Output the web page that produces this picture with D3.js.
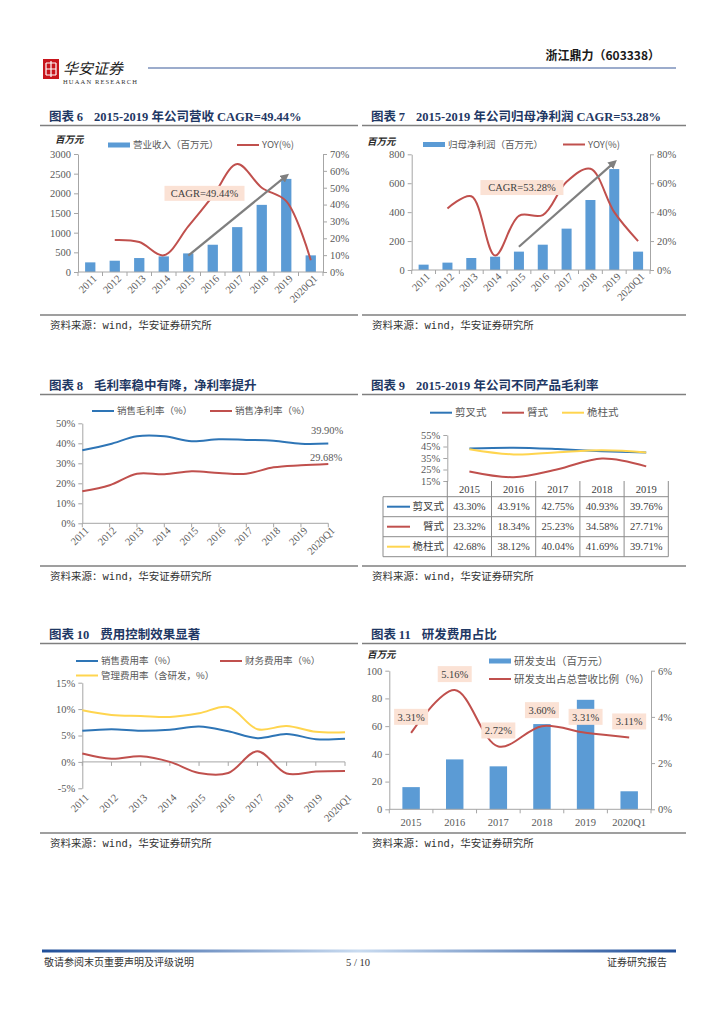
<!DOCTYPE html>
<html>
<head>
<meta charset="utf-8">
<script src="https://cdn.jsdelivr.net/npm/d3@7"></script>
<style>
  body { margin: 0; background: #fff; }
  svg { display: block; }
</style>
</head>
<body>
<svg id="page" width="724" height="1024"></svg>
<script>
// ---- data ----
const years = ["2011", "2012", "2013", "2014", "2015", "2016", "2017", "2018", "2019", "2020Q1"];

const revenue = [245, 287, 355, 397, 473, 693, 1141, 1707, 2367, 423];
const revenueYoy = [null, 19, 17.8, 9.9, 27, 45, 64, 50, 42, 7];
const revenueTicks = [0, 500, 1000, 1500, 2000, 2500, 3000];
const revenuePctTicks = [0, 10, 20, 30, 40, 50, 60, 70];

const netProfit = [37, 51, 83, 92, 127, 175, 286, 484, 698, 127];
const netProfitYoy = [null, 42.6, 51, 10, 37.5, 38, 61, 70, 40, 20];
const profitTicks = [0, 200, 400, 600, 800];
const profitPctTicks = [0, 20, 40, 60, 80];

const grossMargin = [36.5, 39.5, 43.5, 43.5, 41, 42, 41.7, 41.3, 39.8, 39.9];
const netMargin = [16, 19, 24.8, 24.5, 26, 25.2, 24.8, 28, 29, 29.68];
const marginTicks = [0, 10, 20, 30, 40, 50];

const productYears = ["2015", "2016", "2017", "2018", "2019"];
const productNames = ["剪叉式", "臂式", "桅柱式"];
const scissorMargin = [43.30, 43.91, 42.75, 40.93, 39.76];
const boomMargin = [23.32, 18.34, 25.23, 34.58, 27.71];
const mastMargin = [42.68, 38.12, 40.04, 41.69, 39.71];
const productTicks = [15, 25, 35, 45, 55];

const sellingExp = [5.9, 6.2, 5.9, 6.1, 6.7, 5.8, 4.5, 5.3, 4.3, 4.4];
const financeExp = [1.6, 0.6, 1.05, 0.0, -2.1, -2.1, 2.0, -2.2, -1.8, -1.7];
const adminExp = [9.8, 8.9, 8.7, 8.5, 9.2, 10.4, 6.2, 6.8, 5.7, 5.6];
const expTicks = [-5, 0, 5, 10, 15];

const rdYears = ["2015", "2016", "2017", "2018", "2019", "2020Q1"];
const rdSpend = [16, 36, 31, 61.5, 79, 13];
const rdRatio = [3.31, 5.16, 2.72, 3.60, 3.31, 3.11];
const rdTicks = [0, 20, 40, 60, 80, 100];
const rdPctTicks = [0, 2, 4, 6];

// ---- styles ----
const SERIF = "'Liberation Serif','Times New Roman','Noto Sans CJK SC',serif";
const CJK = "'Noto Sans CJK SC','Noto Sans',sans-serif";
const MONO = "'DejaVu Sans Mono','Noto Sans CJK SC',monospace";
const NAVY = "#1f3864";
const TXT = "#595959";
const AXIS = "#a6a6a6";
const BAR = "#5b9bd5";
const RED = "#c0504d";
const BLUE = "#2e75b6";
const YELLOW = "#ffd54f";
const PEACH = "#fbe2d5";

const svg = d3.select("#page");
svg.append("rect").attr("width", 724).attr("height", 1024).attr("fill", "#fff");

const defs = svg.append("defs");
defs.append("marker")
  .attr("id", "arrow")
  .attr("viewBox", "0 0 10 10")
  .attr("refX", 6).attr("refY", 5)
  .attr("markerWidth", 4).attr("markerHeight", 4)
  .attr("orient", "auto")
  .append("path").attr("d", "M0,0L10,5L0,10z").attr("fill", "#7f7f7f");

const grad = defs.append("linearGradient").attr("id", "footGrad");
grad.append("stop").attr("offset", "0%").attr("stop-color", "#1f4e99");
grad.append("stop").attr("offset", "50%").attr("stop-color", "#c9dbf0");
grad.append("stop").attr("offset", "100%").attr("stop-color", "#1f4e99");

// ---- page header / footer ----
const head = svg.append("g");
head.append("rect").attr("x", 43).attr("y", 59).attr("width", 16).attr("height", 20).attr("fill", "#c8161d");
head.append("path")
  .attr("d", "M46,63H56M46,69H56M46,75H56M51,61V77M46,63V75M56,63V75")
  .attr("stroke", "#fff").attr("stroke-width", 1.2).attr("fill", "none");
head.append("text").attr("x", 63).attr("y", 74).text("华安证券")
  .attr("font-family", CJK).attr("font-size", 15).attr("font-style", "italic").attr("fill", "#222");
head.append("text").attr("x", 63).attr("y", 84).text("HUAAN RESEARCH")
  .attr("font-family", SERIF).attr("font-size", 6.5).attr("fill", "#333").attr("textLength", 74);
head.append("line").attr("x1", 148).attr("x2", 676).attr("y1", 68).attr("y2", 68)
  .attr("stroke", "#3b5a9a").attr("stroke-width", 1.2);
head.append("text").attr("x", 660).attr("y", 60).attr("text-anchor", "end")
  .attr("font-family", CJK).attr("font-size", 12).attr("font-weight", "bold").attr("fill", "#1a1a1a")
  .text("浙江鼎力（603338）");

const foot = svg.append("g");
foot.append("rect").attr("x", 42).attr("y", 949.5).attr("width", 634).attr("height", 3).attr("fill", "url(#footGrad)");
foot.append("text").attr("x", 44).attr("y", 966).text("敬请参阅末页重要声明及评级说明")
  .attr("font-family", CJK).attr("font-size", 10).attr("fill", "#333");
foot.append("text").attr("x", 358).attr("y", 966).attr("text-anchor", "middle").text("5 / 10")
  .attr("font-family", SERIF).attr("font-size", 10.5).attr("fill", "#333");
foot.append("text").attr("x", 667).attr("y", 966).attr("text-anchor", "end").text("证券研究报告")
  .attr("font-family", CJK).attr("font-size", 10).attr("fill", "#333");

// ---- helpers ----
function panel(x0, x1, titleY, bottomY, num, title) {
  const g = svg.append("g");
  const t = g.append("text").attr("x", x0 + 9).attr("y", titleY)
    .attr("font-family", SERIF).attr("font-size", 12.5).attr("font-weight", "bold").attr("fill", NAVY);
  t.append("tspan").attr("font-family", CJK).text("图表 ");
  t.append("tspan").text(num);
  t.append("tspan").attr("dx", 11).text(title);
  g.append("line").attr("x1", x0).attr("x2", x1).attr("y1", titleY + 4.5).attr("y2", titleY + 4.5)
    .attr("stroke", "#7f7f7f").attr("stroke-width", 1.6);
  g.append("line").attr("x1", x0).attr("x2", x1).attr("y1", bottomY).attr("y2", bottomY)
    .attr("stroke", "#7f7f7f").attr("stroke-width", 1.6);
  g.append("text").attr("x", x0 + 10).attr("y", bottomY + 13.5)
    .attr("font-family", MONO).attr("font-size", 10.5).attr("fill", "#333")
    .text("资料来源：wind，华安证券研究所");
  return g;
}

function styleAxis(g) {
  g.select(".domain").attr("stroke", AXIS);
  g.selectAll(".tick line").attr("stroke", AXIS);
  g.selectAll(".tick text").attr("fill", TXT).attr("font-family", SERIF).attr("font-size", 10.5);
}

function yAxis(g, scale, x, ticks, fmt, side) {
  const ax = (side === "right" ? d3.axisRight(scale) : d3.axisLeft(scale))
    .tickValues(ticks).tickFormat(fmt).tickSize(4).tickSizeOuter(0).tickPadding(3);
  g.append("g").attr("transform", `translate(${x},0)`).call(ax).call(styleAxis);
}

function bandBase(g, x, y0) {
  const [r0, r1] = x.range();
  g.append("line").attr("x1", r0).attr("x2", r1).attr("y1", y0).attr("y2", y0).attr("stroke", AXIS);
  g.selectAll(null).data(d3.range(x.domain().length + 1)).join("line")
    .attr("x1", (i) => r0 + i * x.step()).attr("x2", (i) => r0 + i * x.step())
    .attr("y1", y0).attr("y2", y0 + 4).attr("stroke", AXIS);
}

function pointBase(g, x, y0) {
  const [r0, r1] = x.range();
  g.append("line").attr("x1", r0).attr("x2", r1).attr("y1", y0).attr("y2", y0).attr("stroke", AXIS);
  g.selectAll(null).data(x.domain()).join("line")
    .attr("x1", (k) => x(k)).attr("x2", (k) => x(k)).attr("y1", y0).attr("y2", y0 + 4).attr("stroke", AXIS);
}

function rotatedLabels(g, pos, labels, y0) {
  g.selectAll(null).data(labels).join("text")
    .attr("transform", (d) => `translate(${pos(d) + 5},${y0}) rotate(-45)`)
    .attr("text-anchor", "end").attr("dy", "0.3em")
    .attr("font-family", SERIF).attr("font-size", 10.5).attr("fill", TXT)
    .text((d) => d);
}

function legendText(g, x, y, text, size) {
  g.append("text").attr("x", x).attr("y", y).attr("dy", "0.35em")
    .attr("font-family", CJK).attr("font-size", size || 9.5).attr("fill", TXT).text(text);
}
function legendBar(g, x, y, text, size) {
  g.append("rect").attr("x", x).attr("y", y - 2.5).attr("width", 22).attr("height", 5).attr("fill", BAR);
  legendText(g, x + 25, y, text, size);
}
function legendLine(g, x, y, color, text, size) {
  g.append("line").attr("x1", x).attr("x2", x + 22).attr("y1", y).attr("y2", y)
    .attr("stroke", color).attr("stroke-width", 2);
  legendText(g, x + 25, y, text, size);
}
function unitLabel(g, x, y) {
  g.append("text").attr("x", x).attr("y", y).attr("dy", "0.35em")
    .attr("font-family", CJK).attr("font-size", 9.5).attr("font-weight", "bold")
    .attr("font-style", "italic").attr("fill", "#262626").text("百万元");
}

function series(keys, vals) {
  return keys.map((k, i) => ({ k, v: vals[i] }));
}

function drawLine(g, data, xPos, y, color) {
  const line = d3.line()
    .defined((d) => d.v != null)
    .x((d) => xPos(d.k)).y((d) => y(d.v))
    .curve(d3.curveCatmullRom.alpha(0.5));
  g.append("path").datum(data).attr("d", line)
    .attr("fill", "none").attr("stroke", color).attr("stroke-width", 2);
}

function cagrNote(g, x, yScale, from, to, box) {
  const cx = (k) => x(k) + x.bandwidth() / 2;
  g.append("line")
    .attr("x1", cx(from.k)).attr("y1", yScale(from.v))
    .attr("x2", cx(to.k)).attr("y2", yScale(to.v))
    .attr("stroke", "#7f7f7f").attr("stroke-width", 2.2).attr("marker-end", "url(#arrow)");
  const bx = (cx(box.k1) + cx(box.k2)) / 2 + box.dx;
  const by = yScale(box.v);
  g.append("rect").attr("x", bx - box.w / 2).attr("y", by - 7.5).attr("width", box.w).attr("height", 15)
    .attr("fill", PEACH);
  g.append("text").attr("x", bx).attr("y", by).attr("dy", "0.35em").attr("text-anchor", "middle")
    .attr("font-family", SERIF).attr("font-size", 10.5).attr("fill", "#404040").text(box.text);
}

// ---- 图表 6 ----
{
  const g = panel(40, 358, 121, 315, "6", "2015-2019 年公司营收 CAGR=49.44%");
  const x = d3.scaleBand().domain(years).range([78, 323]);
  const yL = d3.scaleLinear().domain([0, 3000]).range([272, 154]);
  const yR = d3.scaleLinear().domain([0, 70]).range([272, 154]);
  const bw = x.bandwidth() * 0.42;
  g.selectAll(null).data(series(years, revenue)).join("rect")
    .attr("x", (d) => x(d.k) + (x.bandwidth() - bw) / 2).attr("width", bw)
    .attr("y", (d) => yL(d.v)).attr("height", (d) => yL(0) - yL(d.v)).attr("fill", BAR);
  drawLine(g, series(years, revenueYoy), (k) => x(k) + x.bandwidth() / 2, yR, RED);
  yAxis(g, yL, 78, revenueTicks, d3.format("d"), "left");
  yAxis(g, yR, 323, revenuePctTicks, (d) => d + "%", "right");
  bandBase(g, x, 272);
  rotatedLabels(g, (k) => x(k) + x.bandwidth() / 2, years, 277);
  cagrNote(g, x, yL, { k: "2015", v: 414 }, { k: "2019", v: 2443 },
    { k1: "2015", k2: "2016", dx: 4, v: 2000, w: 80, text: "CAGR=49.44%" });
  unitLabel(g, 55, 140);
  legendBar(g, 108, 145, "营业收入（百万元）");
  legendLine(g, 237, 145, RED, "YOY(%)");
}

// ---- 图表 7 ----
{
  const g = panel(362, 686, 121, 315, "7", "2015-2019 年公司归母净利润 CAGR=53.28%");
  const x = d3.scaleBand().domain(years).range([411.7, 650]);
  const yL = d3.scaleLinear().domain([0, 800]).range([270, 154.3]);
  const yR = d3.scaleLinear().domain([0, 80]).range([270, 154.3]);
  const bw = x.bandwidth() * 0.42;
  g.selectAll(null).data(series(years, netProfit)).join("rect")
    .attr("x", (d) => x(d.k) + (x.bandwidth() - bw) / 2).attr("width", bw)
    .attr("y", (d) => yL(d.v)).attr("height", (d) => yL(0) - yL(d.v)).attr("fill", BAR);
  drawLine(g, series(years, netProfitYoy), (k) => x(k) + x.bandwidth() / 2, yR, RED);
  yAxis(g, yL, 411.7, profitTicks, d3.format("d"), "left");
  yAxis(g, yR, 650, profitPctTicks, (d) => d + "%", "right");
  bandBase(g, x, 270);
  rotatedLabels(g, (k) => x(k) + x.bandwidth() / 2, years, 275);
  cagrNote(g, x, yL, { k: "2015", v: 161 }, { k: "2019", v: 744 },
    { k1: "2015", k2: "2015", dx: 3, v: 570, w: 83, text: "CAGR=53.28%" });
  unitLabel(g, 367, 142);
  legendBar(g, 423, 144.5, "归母净利润（百万元）");
  legendLine(g, 563, 144.5, RED, "YOY(%)");
}

// ---- 图表 8 ----
{
  const g = panel(40, 358, 390, 566, "8", "毛利率稳中有降，净利率提升");
  const x = d3.scalePoint().domain(years).range([82.3, 328.3]);
  const y = d3.scaleLinear().domain([0, 50]).range([523.3, 423.3]);
  yAxis(g, y, 82.3, marginTicks, (d) => d + "%", "left");
  pointBase(g, x, y(0));
  drawLine(g, series(years, grossMargin), x, y, BLUE);
  drawLine(g, series(years, netMargin), x, y, RED);
  rotatedLabels(g, x, years, 529);
  const last = years[years.length - 1];
  g.append("text").attr("x", x(last) + 15).attr("y", y(grossMargin[9]) - 10).attr("text-anchor", "end")
    .attr("font-family", SERIF).attr("font-size", 10.5).attr("fill", TXT).text(grossMargin[9].toFixed(2) + "%");
  g.append("text").attr("x", x(last) + 14).attr("y", y(netMargin[9]) - 3).attr("text-anchor", "end")
    .attr("font-family", SERIF).attr("font-size", 10.5).attr("fill", TXT).text(netMargin[9].toFixed(2) + "%");
  legendLine(g, 92, 411, BLUE, "销售毛利率（%）");
  legendLine(g, 210, 411, RED, "销售净利率（%）");
}

// ---- 图表 9 ----
{
  const g = panel(362, 686, 390, 566, "9", "2015-2019 年公司不同产品毛利率");
  const x = d3.scaleBand().domain(productYears).range([447.3, 668.3]);
  const y = d3.scaleLinear().domain([15, 55]).range([481, 435]);
  const cx = (k) => x(k) + x.bandwidth() / 2;
  yAxis(g, y, 447.3, productTicks, (d) => d + "%", "left");
  const colors = [BLUE, RED, YELLOW];
  const rows = [scissorMargin, boomMargin, mastMargin];
  rows.forEach((r, i) => drawLine(g, series(productYears, r), cx, y, colors[i]));

  // data table below the plot
  const tLeft = 383, tRight = 668.3, rowH = 20, headTop = 481, headH = 15.7;
  const rowTop = (i) => headTop + headH + i * rowH;
  const bounds = d3.range(productYears.length + 1).map((i) => x.range()[0] + i * x.step());
  g.selectAll(null).data(bounds).join("line")
    .attr("x1", (b) => b).attr("x2", (b) => b).attr("y1", headTop).attr("y2", rowTop(3))
    .attr("stroke", "#8c8c8c");
  g.append("line").attr("x1", tLeft).attr("x2", tLeft).attr("y1", rowTop(0)).attr("y2", rowTop(3)).attr("stroke", "#8c8c8c");
  g.selectAll(null).data(d3.range(4)).join("line")
    .attr("x1", tLeft).attr("x2", tRight).attr("y1", (i) => rowTop(i)).attr("y2", (i) => rowTop(i))
    .attr("stroke", "#8c8c8c");
  g.selectAll(null).data(productYears).join("text")
    .attr("x", cx).attr("y", headTop + headH / 2).attr("dy", "0.35em").attr("text-anchor", "middle")
    .attr("font-family", SERIF).attr("font-size", 10.5).attr("fill", "#404040").text((d) => d);
  rows.forEach((r, i) => {
    const yc = rowTop(i) + rowH / 2;
    g.append("line").attr("x1", tLeft + 4).attr("x2", tLeft + 27).attr("y1", yc).attr("y2", yc)
      .attr("stroke", colors[i]).attr("stroke-width", 2);
    g.append("text").attr("x", 444).attr("y", yc).attr("dy", "0.35em").attr("text-anchor", "end")
      .attr("font-family", CJK).attr("font-size", 10.5).attr("fill", "#404040").text(productNames[i]);
    g.selectAll(null).data(series(productYears, r)).join("text")
      .attr("x", (d) => cx(d.k)).attr("y", yc).attr("dy", "0.35em").attr("text-anchor", "middle")
      .attr("font-family", SERIF).attr("font-size", 10.5).attr("fill", "#404040")
      .text((d) => d.v.toFixed(2) + "%");
  });
  legendLine(g, 430, 412.7, BLUE, "剪叉式", 10.5);
  legendLine(g, 502, 412.7, RED, "臂式", 10.5);
  legendLine(g, 562, 412.7, YELLOW, "桅柱式", 10.5);
}

// ---- 图表 10 ----
{
  const g = panel(40, 358, 639, 833, "10", "费用控制效果显著");
  const x = d3.scalePoint().domain(years).range([82.3, 345]);
  const y = d3.scaleLinear().domain([-5, 15]).range([788.3, 682.7]);
  yAxis(g, y, 82.3, expTicks, (d) => d + "%", "left");
  pointBase(g, x, y(0));
  drawLine(g, series(years, adminExp), x, y, YELLOW);
  drawLine(g, series(years, sellingExp), x, y, BLUE);
  drawLine(g, series(years, financeExp), x, y, RED);
  rotatedLabels(g, x, years, 796);
  legendLine(g, 76, 661, BLUE, "销售费用率（%）");
  legendLine(g, 220, 661, RED, "财务费用率（%）");
  legendLine(g, 76, 675.5, YELLOW, "管理费用率（含研发，%）");
}

// ---- 图表 11 ----
{
  const g = panel(362, 686, 639, 833, "11", "研发费用占比");
  const x = d3.scaleBand().domain(rdYears).range([389.3, 651]);
  const yL = d3.scaleLinear().domain([0, 100]).range([809.3, 670.7]);
  const yR = d3.scaleLinear().domain([0, 6]).range([809.3, 670.7]);
  const cx = (k) => x(k) + x.bandwidth() / 2;
  const bw = x.bandwidth() * 0.4;
  g.selectAll(null).data(series(rdYears, rdSpend)).join("rect")
    .attr("x", (d) => cx(d.k) - bw / 2).attr("width", bw)
    .attr("y", (d) => yL(d.v)).attr("height", (d) => yL(0) - yL(d.v)).attr("fill", BAR);
  drawLine(g, series(rdYears, rdRatio), cx, yR, RED);
  yAxis(g, yL, 389.3, rdTicks, d3.format("d"), "left");
  yAxis(g, yR, 651, rdPctTicks, (d) => d + "%", "right");
  bandBase(g, x, 809.3);
  g.selectAll(null).data(rdYears).join("text")
    .attr("x", cx).attr("y", 822).attr("dy", "0.35em").attr("text-anchor", "middle")
    .attr("font-family", SERIF).attr("font-size", 10.5).attr("fill", TXT).text((d) => d);
  const lab = g.selectAll(null).data(series(rdYears, rdRatio)).join("g")
    .attr("transform", (d) => `translate(${cx(d.k)},${yR(d.v) - 16})`);
  lab.append("rect").attr("x", -17).attr("y", -8).attr("width", 34).attr("height", 16).attr("fill", PEACH);
  lab.append("text").attr("dy", "0.35em").attr("text-anchor", "middle")
    .attr("font-family", SERIF).attr("font-size", 10.5).attr("fill", "#404040")
    .text((d) => d.v.toFixed(2) + "%");
  unitLabel(g, 367, 655);
  legendBar(g, 489, 661, "研发支出（百万元）", 10.5);
  legendLine(g, 489, 679, RED, "研发支出占总营收比例（%）", 10.5);
}
</script>
</body>
</html>
